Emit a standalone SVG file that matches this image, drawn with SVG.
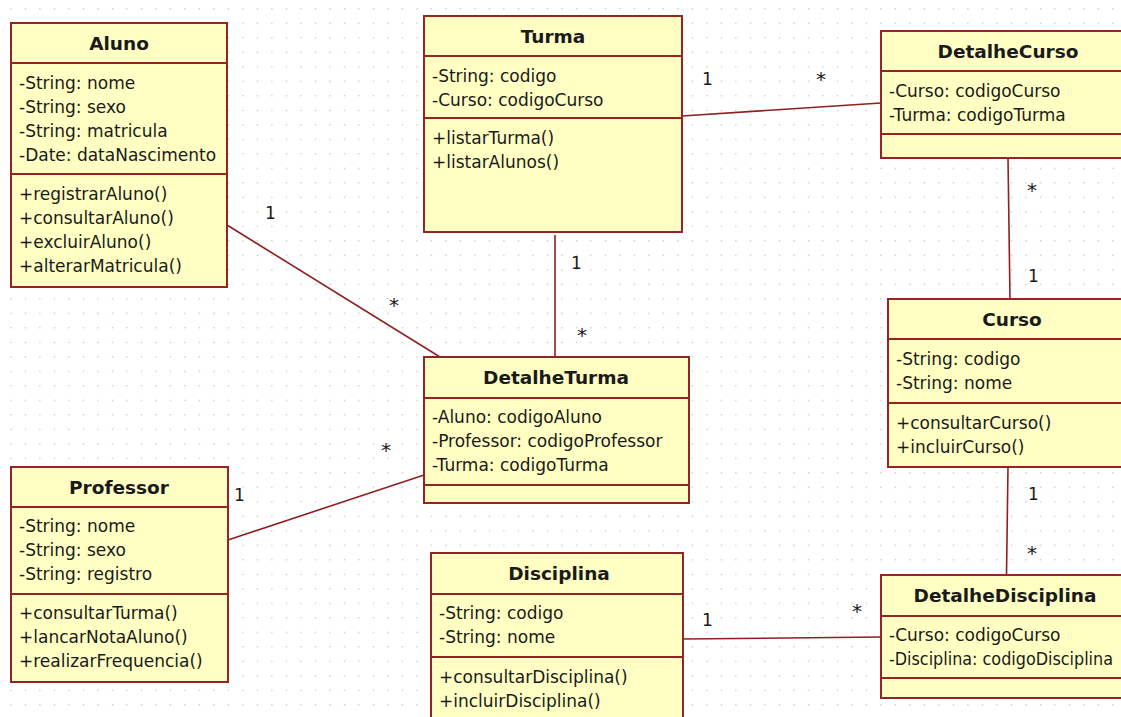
<svg xmlns="http://www.w3.org/2000/svg" width="1121" height="717" viewBox="0 0 1121 717">
  <defs>
    <pattern id="grid" x="10.3" y="8.2" width="14.5" height="14.5" patternUnits="userSpaceOnUse">
      <rect x="0" y="0" width="1.2" height="1.2" fill="#b8b8b8"/>
    </pattern>
    <style>
      .box { fill: #ffffc4; stroke: #952525; stroke-width: 2; }
      .div { stroke: #952525; stroke-width: 2; fill: none; }
      .conn { stroke: #8f2020; stroke-width: 1.6; fill: none; }
      text { font-family: "DejaVu Sans", Verdana, sans-serif; fill: #1a1a1a; }
      .title { font-size: 18.5px; font-weight: bold; text-anchor: middle; }
      .member { font-size: 17px; }
      .mult { font-size: 17px; }
      .star { font-size: 20px; }
    </style>
  </defs>

  <rect x="0" y="0" width="1121" height="717" fill="#ffffff"/>
  <rect x="0" y="0" width="1121" height="717" fill="url(#grid)"/>

  <!-- associations -->
  <g id="connectors">
    <line class="conn" x1="227" y1="225" x2="440" y2="357"/>
    <line class="conn" x1="555" y1="235" x2="555" y2="357"/>
    <line class="conn" x1="682" y1="116" x2="881" y2="103"/>
    <line class="conn" x1="1008" y1="158" x2="1010" y2="299"/>
    <line class="conn" x1="1008" y1="467" x2="1006.5" y2="575"/>
    <line class="conn" x1="228" y1="540" x2="424" y2="475"/>
    <line class="conn" x1="683" y1="639" x2="881" y2="637"/>

    <text class="mult" x="265" y="219">1</text>
    <text class="mult star" x="389" y="312">*</text>
    <text class="mult" x="571" y="269">1</text>
    <text class="mult star" x="577" y="342">*</text>
    <text class="mult" x="702" y="85">1</text>
    <text class="mult star" x="816" y="86">*</text>
    <text class="mult star" x="1027" y="197">*</text>
    <text class="mult" x="1028" y="282">1</text>
    <text class="mult" x="1028" y="500">1</text>
    <text class="mult star" x="1027" y="560">*</text>
    <text class="mult star" x="381" y="457">*</text>
    <text class="mult" x="234" y="501">1</text>
    <text class="mult" x="702" y="626">1</text>
    <text class="mult star" x="852" y="618">*</text>
  </g>

  <g id="aluno">
    <rect class="box" x="11" y="23" width="216" height="264"/>
    <line class="div" x1="11" y1="63" x2="227" y2="63"/>
    <line class="div" x1="11" y1="174" x2="227" y2="174"/>
    <text class="title" x="119" y="50">Aluno</text>
    <text class="member" x="19" y="89">-String: nome</text>
    <text class="member" x="19" y="113">-String: sexo</text>
    <text class="member" x="19" y="137">-String: matricula</text>
    <text class="member" x="19" y="161">-Date: dataNascimento</text>
    <text class="member" x="19" y="200">+registrarAluno()</text>
    <text class="member" x="19" y="224">+consultarAluno()</text>
    <text class="member" x="19" y="248">+excluirAluno()</text>
    <text class="member" x="19" y="272">+alterarMatricula()</text>
  </g>

  <g id="turma">
    <rect class="box" x="424" y="16" width="258" height="216"/>
    <line class="div" x1="424" y1="56" x2="682" y2="56"/>
    <line class="div" x1="424" y1="118" x2="682" y2="118"/>
    <text class="title" x="553" y="43">Turma</text>
    <text class="member" x="432" y="82">-String: codigo</text>
    <text class="member" x="432" y="106">-Curso: codigoCurso</text>
    <text class="member" x="432" y="144">+listarTurma()</text>
    <text class="member" x="432" y="168">+listarAlunos()</text>
  </g>

  <g id="detalhe-curso">
    <rect class="box" x="881" y="31" width="254" height="127"/>
    <line class="div" x1="881" y1="71" x2="1135" y2="71"/>
    <line class="div" x1="881" y1="134" x2="1135" y2="134"/>
    <text class="title" x="1008" y="58">DetalheCurso</text>
    <text class="member" x="889" y="97">-Curso: codigoCurso</text>
    <text class="member" x="889" y="121">-Turma: codigoTurma</text>
  </g>

  <g id="curso">
    <rect class="box" x="888" y="299" width="248" height="168"/>
    <line class="div" x1="888" y1="339" x2="1136" y2="339"/>
    <line class="div" x1="888" y1="403" x2="1136" y2="403"/>
    <text class="title" x="1012" y="326">Curso</text>
    <text class="member" x="896" y="365">-String: codigo</text>
    <text class="member" x="896" y="389">-String: nome</text>
    <text class="member" x="896" y="429">+consultarCurso()</text>
    <text class="member" x="896" y="453">+incluirCurso()</text>
  </g>

  <g id="detalhe-turma">
    <rect class="box" x="424" y="357" width="265" height="146"/>
    <line class="div" x1="424" y1="398" x2="689" y2="398"/>
    <line class="div" x1="424" y1="485" x2="689" y2="485"/>
    <text class="title" x="556" y="384">DetalheTurma</text>
    <text class="member" x="432" y="423">-Aluno: codigoAluno</text>
    <text class="member" x="432" y="447">-Professor: codigoProfessor</text>
    <text class="member" x="432" y="471">-Turma: codigoTurma</text>
  </g>

  <g id="professor">
    <rect class="box" x="11" y="467" width="217" height="215"/>
    <line class="div" x1="11" y1="507" x2="228" y2="507"/>
    <line class="div" x1="11" y1="594" x2="228" y2="594"/>
    <text class="title" x="119" y="494">Professor</text>
    <text class="member" x="19" y="532">-String: nome</text>
    <text class="member" x="19" y="556">-String: sexo</text>
    <text class="member" x="19" y="580">-String: registro</text>
    <text class="member" x="19" y="619">+consultarTurma()</text>
    <text class="member" x="19" y="643">+lancarNotaAluno()</text>
    <text class="member" x="19" y="667">+realizarFrequencia()</text>
  </g>

  <g id="disciplina">
    <rect class="box" x="431" y="553" width="252" height="180"/>
    <line class="div" x1="431" y1="594" x2="683" y2="594"/>
    <line class="div" x1="431" y1="657" x2="683" y2="657"/>
    <text class="title" x="559" y="580">Disciplina</text>
    <text class="member" x="439" y="619">-String: codigo</text>
    <text class="member" x="439" y="643">-String: nome</text>
    <text class="member" x="439" y="683">+consultarDisciplina()</text>
    <text class="member" x="439" y="707">+incluirDisciplina()</text>
  </g>

  <g id="detalhe-disciplina">
    <rect class="box" x="881" y="575" width="248" height="123"/>
    <line class="div" x1="881" y1="616" x2="1129" y2="616"/>
    <line class="div" x1="881" y1="678" x2="1129" y2="678"/>
    <text class="title" x="1005" y="602">DetalheDisciplina</text>
    <text class="member" x="889" y="641">-Curso: codigoCurso</text>
    <text class="member" x="889" y="665" textLength="224" lengthAdjust="spacingAndGlyphs">-Disciplina: codigoDisciplina</text>
  </g>
</svg>
